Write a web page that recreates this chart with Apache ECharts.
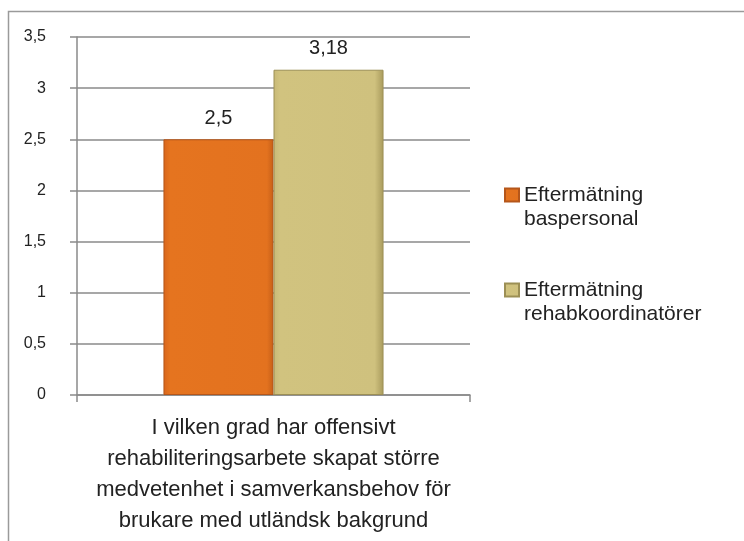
<!DOCTYPE html>
<html>
<head>
<meta charset="utf-8">
<script src="https://cdn.jsdelivr.net/npm/echarts@6/dist/echarts.min.js"></script>
<style>
  html, body { margin: 0; padding: 0; background: #fff; }
  #chart { width: 744px; height: 541px; }
</style>
</head>
<body>
<div id="chart"></div>
<script>
// kategorier och serier
var categories = ['I vilken grad har offensivt\nrehabiliteringsarbete skapat större\nmedvetenhet i samverkansbehov för\nbrukare med utländsk bakgrund'];
var seriesNames = ['Eftermätning\nbaspersonal', 'Eftermätning\nrehabkoordinatörer'];
var baspersonal = [2.5];
var rehabkoordinatorer = [3.18];

var FONT = '"Liberation Sans", Arial, sans-serif';
var comma = function (v) { return String(v).replace('.', ','); };

var chart = echarts.init(document.getElementById('chart'));

// etikett ovanför stapeln
var barLabel = {
  show: true,
  position: 'top',
  distance: 11,
  fontFamily: FONT,
  fontSize: 20,
  color: '#222',
  formatter: function (p) { return comma(p.value); }
};

chart.setOption({
  backgroundColor: '#fff',
  animation: false,
  textStyle: { fontFamily: FONT },
  // ram runt diagrammet
  graphic: [{
    type: 'rect',
    shape: { x: 8.5, y: 11.5, width: 800, height: 600 },
    style: { fill: 'none', stroke: '#9a9a9a', lineWidth: 1.5 },
    silent: true
  }],
  grid: { left: 77, right: 274, top: 37, bottom: 146 },
  legend: {
    orient: 'vertical',
    left: 499,
    top: 154,
    itemWidth: 14,
    itemHeight: 13,
    itemGap: 23,
    icon: 'rect',
    // tom första rad så att ikonen hamnar vid första textraden
    formatter: function (name) { return '\n' + name; },
    textStyle: {
      fontFamily: FONT,
      fontSize: 21,
      color: '#222',
      lineHeight: 24
    },
    data: seriesNames
  },
  xAxis: {
    type: 'category',
    data: categories,
    axisLine: { lineStyle: { color: '#8a8a8a', width: 1.5 } },
    axisTick: { show: true, interval: 0, length: 7, lineStyle: { color: '#8a8a8a', width: 1.5 } },
    axisLabel: {
      interval: 0,
      margin: 17,
      fontFamily: FONT,
      fontSize: 22,
      lineHeight: 31,
      color: '#222'
    }
  },
  yAxis: {
    type: 'value',
    min: 0,
    max: 3.5,
    interval: 0.5,
    axisLine: { show: true, lineStyle: { color: '#8a8a8a', width: 1.5 } },
    axisTick: { show: true, length: 7, lineStyle: { color: '#8a8a8a', width: 1.5 } },
    axisLabel: {
      margin: 31,
      fontFamily: FONT,
      fontSize: 16,
      color: '#222',
      formatter: comma
    },
    splitLine: { lineStyle: { color: '#8a8a8a', width: 1.5 } }
  },
  series: [
    {
      name: seriesNames[0],
      type: 'bar',
      data: baspersonal,
      barGap: '0%',
      barCategoryGap: '44%',
      itemStyle: {
        color: new echarts.graphic.LinearGradient(0, 0, 1, 0, [
          { offset: 0, color: '#d9661c' },
          { offset: 0.06, color: '#e5741f' },
          { offset: 0.94, color: '#e3721f' },
          { offset: 1, color: '#c65f18' }
        ]),
        borderColor: '#b5561a',
        borderWidth: 1
      },
      label: barLabel
    },
    {
      name: seriesNames[1],
      type: 'bar',
      data: rehabkoordinatorer,
      itemStyle: {
        color: new echarts.graphic.LinearGradient(0, 0, 1, 0, [
          { offset: 0, color: '#c8b977' },
          { offset: 0.06, color: '#d1c37f' },
          { offset: 0.92, color: '#cfc17e' },
          { offset: 1, color: '#a89a5c' }
        ]),
        borderColor: '#9c8f55',
        borderWidth: 1
      },
      label: barLabel
    }
  ]
});
</script>
</body>
</html>
